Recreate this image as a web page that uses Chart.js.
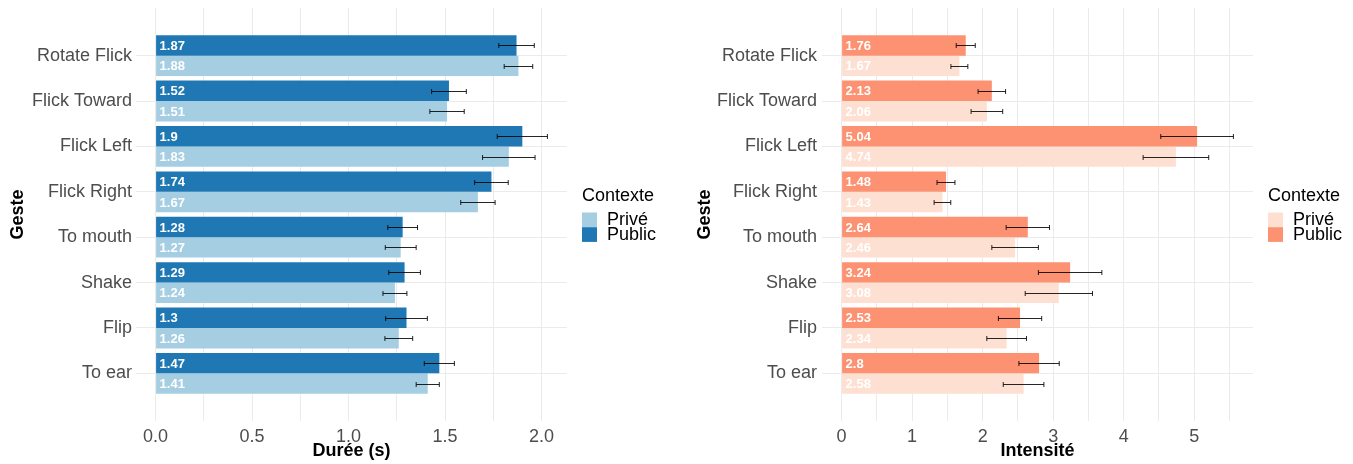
<!DOCTYPE html>
<html>
<head>
<meta charset="utf-8">
<script src="https://cdn.jsdelivr.net/npm/chart.js@4.4.0/dist/chart.umd.min.js"></script>
<style>
  body { margin: 0; background: #fff; }
  #wrap { display: flex; width: 1353px; height: 464px; }
  canvas { display: block; }
</style>
</head>
<body>
<div id="wrap">
  <canvas id="dureeChart" width="676" height="464"></canvas>
  <canvas id="intensiteChart" width="677" height="464"></canvas>
</div>
<script>
// gestures, top to bottom
const gestes = ['Rotate Flick', 'Flick Toward', 'Flick Left', 'Flick Right', 'To mouth', 'Shake', 'Flip', 'To ear'];
const legendTitle = 'Contexte';

const dureePublic = [1.87, 1.52, 1.9, 1.74, 1.28, 1.29, 1.3, 1.47];
const dureePrive = [1.88, 1.51, 1.83, 1.67, 1.27, 1.24, 1.26, 1.41];
const dureePublicErr = [0.092, 0.09, 0.13, 0.087, 0.077, 0.082, 0.108, 0.078];
const dureePriveErr = [0.074, 0.089, 0.136, 0.089, 0.08, 0.062, 0.072, 0.06];

const intensitePublic = [1.76, 2.13, 5.04, 1.48, 2.64, 3.24, 2.53, 2.8];
const intensitePrive = [1.67, 2.06, 4.74, 1.43, 2.46, 3.08, 2.34, 2.58];
const intensitePublicErr = [0.135, 0.195, 0.515, 0.127, 0.307, 0.45, 0.307, 0.286];
const intensitePriveErr = [0.12, 0.224, 0.465, 0.118, 0.33, 0.477, 0.281, 0.288];

const FONT = "'Liberation Sans', Arial, sans-serif";
Chart.defaults.font.family = FONT;

// labels written inside the bars
const valueLabels = {
  id: 'valueLabels',
  afterDatasetsDraw(chart) {
    const ctx = chart.ctx;
    const x0 = chart.scales.x.getPixelForValue(0) + 4;
    ctx.save();
    ctx.font = 'bold 13px ' + FONT;
    ctx.fillStyle = '#ffffff';
    ctx.textAlign = 'left';
    ctx.textBaseline = 'middle';
    chart.data.datasets.forEach((ds, di) => {
      chart.getDatasetMeta(di).data.forEach((bar, i) => {
        ctx.fillText(String(ds.data[i].x), x0, bar.y + 1);
      });
    });
    ctx.restore();
  }
};

const errorBars = {
  id: 'errorBars',
  afterDatasetsDraw(chart) {
    const ctx = chart.ctx;
    const xs = chart.scales.x;
    ctx.save();
    ctx.strokeStyle = 'rgba(0,0,0,0.85)';
    ctx.lineWidth = 1;
    chart.data.datasets.forEach((ds, di) => {
      chart.getDatasetMeta(di).data.forEach((bar, i) => {
        const v = ds.data[i].x, e = ds.errors[i];
        const x1 = xs.getPixelForValue(v - e);
        const x2 = xs.getPixelForValue(v + e);
        const y = Math.round(bar.y) + 0.5;
        ctx.beginPath();
        ctx.moveTo(x1, y); ctx.lineTo(x2, y);
        ctx.moveTo(x1, y - 2.5); ctx.lineTo(x1, y + 2.5);
        ctx.moveTo(x2, y - 2.5); ctx.lineTo(x2, y + 2.5);
        ctx.stroke();
      });
    });
    ctx.restore();
  }
};

const sideLegend = {
  id: 'sideLegend',
  afterDraw(chart) {
    const ctx = chart.ctx;
    const x0 = chart.chartArea.right + 15;
    ctx.save();
    ctx.font = '18px ' + FONT;
    ctx.textAlign = 'left';
    ctx.textBaseline = 'middle';
    ctx.fillStyle = '#000';
    ctx.fillText(legendTitle, x0, 196);
    chart.data.datasets.slice().reverse().forEach((ds, k) => {
      const top = 212.5 + k * 14.7;
      ctx.fillStyle = ds.backgroundColor;
      ctx.fillRect(x0, top, 15, 14.7);
      ctx.fillStyle = '#000';
      ctx.fillText(ds.label, x0 + 25, top + 8);
    });
    ctx.restore();
  }
};

function makeChart(id, cfg) {
  const uppers = cfg.pub.map((v, i) => v + cfg.pubErr[i]).concat(cfg.priv.map((v, i) => v + cfg.privErr[i]));
  const maxUpper = Math.max(...uppers);
  const pad = 0.05 * maxUpper;

  return new Chart(document.getElementById(id), {
    type: 'bar',
    data: {
      datasets: [
        {
          label: 'Public',
          data: cfg.pub.map((v, i) => ({ x: v, y: i })),
          errors: cfg.pubErr,
          backgroundColor: cfg.colors[0],
          categoryPercentage: 0.9,
          barPercentage: 1
        },
        {
          label: 'Privé',
          data: cfg.priv.map((v, i) => ({ x: v, y: i })),
          errors: cfg.privErr,
          backgroundColor: cfg.colors[1],
          categoryPercentage: 0.9,
          barPercentage: 1
        }
      ]
    },
    options: {
      indexAxis: 'y',
      responsive: false,
      animation: false,
      devicePixelRatio: 1,
      layout: { padding: { top: 8, right: cfg.padRight, bottom: 0, left: 0 } },
      plugins: { legend: { display: false }, tooltip: { enabled: false } },
      scales: {
        x: {
          type: 'linear',
          min: -pad,
          max: maxUpper + pad,
          grid: { color: '#ebebeb', lineWidth: 1, drawTicks: false },
          border: { display: false },
          ticks: {
            stepSize: cfg.step,
            includeBounds: false,
            padding: 5,
            color: '#4d4d4d',
            font: { size: 18 },
            maxRotation: 0,
            autoSkip: false,
            callback: cfg.tickLabel
          },
          title: {
            display: true,
            text: cfg.title,
            color: '#000',
            font: { size: 18, weight: 'bold' },
            padding: { top: 0, bottom: 2 }
          },
          afterFit(s) { s.height = 43; }
        },
        y: {
          type: 'linear',
          reverse: true,
          offset: false,
          min: -1.05,
          max: 8.05,
          grid: { color: '#ebebeb', lineWidth: 1, drawTicks: false, offset: false },
          border: { display: false },
          afterBuildTicks(s) { s.ticks = gestes.map((g, i) => ({ value: i })); },
          ticks: {
            padding: cfg.yPad,
            color: '#4d4d4d',
            font: { size: 18 },
            autoSkip: false,
            callback: (v) => gestes[Math.round(v)]
          },
          title: {
            display: true,
            text: 'Geste',
            color: '#000',
            font: { size: 18, weight: 'bold' },
            padding: { top: cfg.titlePad, bottom: 0 }
          },
          afterFit(s) {
            s.width = cfg.axisWidth;
            s.paddingTop = 0;
            s.paddingBottom = 0;
          }
        }
      }
    },
    plugins: [valueLabels, errorBars, sideLegend]
  });
}

makeChart('dureeChart', {
  pub: dureePublic, priv: dureePrive,
  pubErr: dureePublicErr, privErr: dureePriveErr,
  colors: ['#1f78b4', '#a6cee3'],
  title: 'Durée (s)',
  step: 0.25,
  tickLabel: (v) => (Math.abs(v * 2 - Math.round(v * 2)) < 1e-6 ? v.toFixed(1) : ''),
  axisWidth: 136, padRight: 109, yPad: 4, titlePad: 7
});

makeChart('intensiteChart', {
  pub: intensitePublic, priv: intensitePrive,
  pubErr: intensitePublicErr, privErr: intensitePriveErr,
  colors: ['#fc9272', '#fee0d2'],
  title: 'Intensité',
  step: 0.5,
  tickLabel: (v) => (Math.abs(v - Math.round(v)) < 1e-6 ? String(Math.round(v)) : ''),
  axisWidth: 146, padRight: 100, yPad: 5, titlePad: 18
});
</script>
</body>
</html>
